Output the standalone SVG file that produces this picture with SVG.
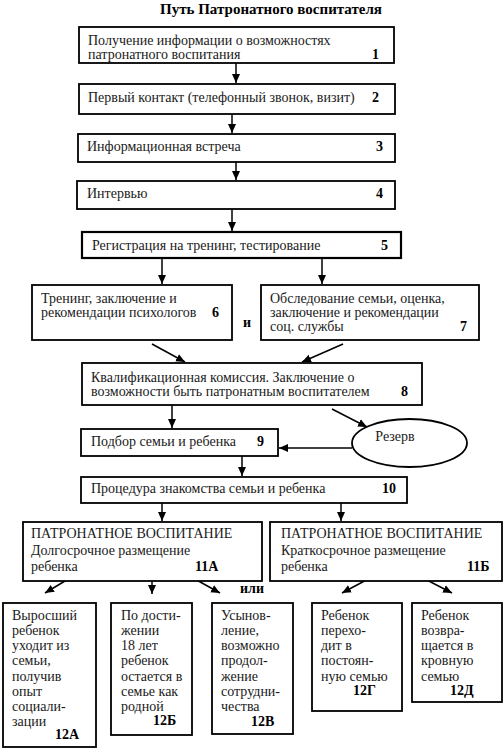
<svg xmlns="http://www.w3.org/2000/svg" width="504" height="751" viewBox="0 0 504 751">
<defs>
<marker id="ah" markerWidth="10" markerHeight="10" refX="9" refY="5" orient="auto" markerUnits="userSpaceOnUse">
<path d="M0,1 L9,5 L0,9 Z" fill="#000"/>
</marker>
<style>
.box{fill:#fff;stroke:#000;stroke-width:1.8}
.t{font-family:"Liberation Serif","Times New Roman",serif;font-size:14px;fill:#1a1a1a}
.n{font-family:"Liberation Serif","Times New Roman",serif;font-size:14px;font-weight:bold;fill:#000}
.c{stroke:#000;stroke-width:1.5;fill:none;marker-end:url(#ah)}
</style>
</defs>
<rect width="504" height="751" fill="#fff"/>
<text x="271" y="14" text-anchor="middle" class="n" style="font-size:15px">Путь Патронатного воспитателя</text>

<g id="connectors">
<line class="c" x1="236" y1="63" x2="236" y2="83"/>
<line class="c" x1="232" y1="114" x2="232" y2="133"/>
<line class="c" x1="236" y1="162" x2="236" y2="180"/>
<line class="c" x1="232" y1="209" x2="232" y2="231"/>
<line class="c" x1="162" y1="258" x2="162" y2="284"/>
<line class="c" x1="322" y1="258" x2="322" y2="284"/>
<line class="c" x1="152" y1="344" x2="185" y2="362"/>
<line class="c" x1="343" y1="344" x2="302" y2="362"/>
<line class="c" x1="172" y1="405" x2="172" y2="428"/>
<line class="c" x1="332" y1="409" x2="367" y2="427"/>
<line class="c" x1="352" y1="448" x2="279" y2="448"/>
<line class="c" x1="242" y1="456" x2="242" y2="476"/>
<line class="c" x1="162" y1="503" x2="162" y2="521"/>
<line class="c" x1="341" y1="503" x2="341" y2="521"/>
<line class="c" x1="70" y1="578" x2="45" y2="593"/>
<line class="c" x1="152" y1="581" x2="152" y2="594"/>
<line class="c" x1="193" y1="578" x2="220" y2="593"/>
<line class="c" x1="370" y1="578" x2="342" y2="593"/>
<line class="c" x1="423" y1="578" x2="452" y2="593"/>
</g>

<g id="n1"><rect class="box" x="79" y="27" width="315" height="36"/>
<text class="t" x="88" y="45">Получение информации о возможностях</text>
<text class="t" x="88" y="59">патронатного воспитания</text>
<text class="n" x="372" y="59">1</text></g>

<g id="n2"><rect class="box" x="79" y="84" width="316" height="30"/>
<text class="t" x="88" y="102">Первый контакт (телефонный звонок, визит)</text>
<text class="n" x="372" y="102">2</text></g>

<g id="n3"><rect class="box" x="78" y="134" width="317" height="28"/>
<text class="t" x="87" y="151">Информационная встреча</text>
<text class="n" x="376" y="151">3</text></g>

<g id="n4"><rect class="box" x="77" y="181" width="318" height="28"/>
<text class="t" x="87" y="198">Интервью</text>
<text class="n" x="376" y="198">4</text></g>

<g id="n5"><rect class="box" x="82" y="232" width="319" height="26" style="stroke-width:2.2"/>
<text class="t" x="92" y="250">Регистрация на тренинг, тестирование</text>
<text class="n" x="381" y="250">5</text></g>

<g id="n6"><rect class="box" x="32" y="285" width="200" height="55"/>
<text class="t" x="41" y="303">Тренинг, заключение и</text>
<text class="t" x="41" y="317">рекомендации психологов</text>
<text class="n" x="212" y="317">6</text></g>

<text class="n" x="243" y="327">и</text>

<g id="n7"><rect class="box" x="261" y="285" width="218" height="55"/>
<text class="t" x="270" y="303">Обследование семьи, оценка,</text>
<text class="t" x="270" y="317">заключение и рекомендации</text>
<text class="t" x="270" y="331">соц. службы</text>
<text class="n" x="460" y="331">7</text></g>

<g id="n8"><rect class="box" x="82" y="363" width="340" height="42"/>
<text class="t" x="91" y="382">Квалификационная комиссия. Заключение о</text>
<text class="t" x="91" y="396">возможности быть патронатным воспитателем</text>
<text class="n" x="401" y="396">8</text></g>

<g id="n9"><rect class="box" x="81" y="429" width="197" height="27"/>
<text class="t" x="91" y="446">Подбор семьи и ребенка</text>
<text class="n" x="257" y="446">9</text></g>

<g id="reserve"><ellipse cx="409.500" cy="443" rx="57.500" ry="24" fill="#fff" stroke="#000" stroke-width="1.8"/>
<text class="t" x="395" y="441" text-anchor="middle">Резерв</text></g>

<g id="n10"><rect class="box" x="81" y="477" width="326" height="26"/>
<text class="t" x="91" y="493">Процедура знакомства семьи и ребенка</text>
<text class="n" x="382" y="493">10</text></g>

<g id="n11a"><rect class="box" x="23" y="522" width="239" height="59"/>
<text class="t" x="31" y="538">ПАТРОНАТНОЕ ВОСПИТАНИЕ</text>
<text class="t" x="31" y="555">Долгосрочное размещение</text>
<text class="t" x="31" y="571">ребенка</text>
<text class="n" x="195" y="571">11А</text></g>

<g id="n11b"><rect class="box" x="270" y="522" width="232" height="59"/>
<text class="t" x="281" y="538">ПАТРОНАТНОЕ ВОСПИТАНИЕ</text>
<text class="t" x="281" y="555">Краткосрочное размещение</text>
<text class="t" x="281" y="571">ребенка</text>
<text class="n" x="467" y="571">11Б</text></g>

<text class="n" x="240" y="593">или</text>

<g id="n12a"><rect class="box" x="3" y="603" width="93" height="144"/>
<text class="t" x="12" y="620">Выросший</text>
<text class="t" x="12" y="635">ребенок</text>
<text class="t" x="12" y="650">уходит из</text>
<text class="t" x="12" y="665">семьи,</text>
<text class="t" x="12" y="681">получив</text>
<text class="t" x="12" y="696">опыт</text>
<text class="t" x="12" y="711">социали-</text>
<text class="t" x="12" y="726">зации</text>
<text class="n" x="55" y="739">12А</text></g>

<g id="n12b"><rect class="box" x="111" y="603" width="81" height="132"/>
<text class="t" x="121" y="620">По дости-</text>
<text class="t" x="121" y="635">жении</text>
<text class="t" x="121" y="650">18 лет</text>
<text class="t" x="121" y="665">ребенок</text>
<text class="t" x="121" y="681">остается в</text>
<text class="t" x="121" y="696">семье как</text>
<text class="t" x="121" y="711">родной</text>
<text class="n" x="153" y="725">12Б</text></g>

<g id="n12v"><rect class="box" x="212" y="603" width="81" height="131"/>
<text class="t" x="221" y="620">Усынов-</text>
<text class="t" x="221" y="635">ление,</text>
<text class="t" x="221" y="650">возможно</text>
<text class="t" x="221" y="665">продол-</text>
<text class="t" x="221" y="681">жение</text>
<text class="t" x="221" y="696">сотрудни-</text>
<text class="t" x="221" y="711">чества</text>
<text class="n" x="251" y="726">12В</text></g>

<g id="n12g"><rect class="box" x="312" y="603" width="90" height="108"/>
<text class="t" x="321" y="620">Ребенок</text>
<text class="t" x="321" y="635">перехо-</text>
<text class="t" x="321" y="650">дит в</text>
<text class="t" x="321" y="665">постоян-</text>
<text class="t" x="321" y="681">ную семью</text>
<text class="n" x="353" y="695">12Г</text></g>

<g id="n12d"><rect class="box" x="412" y="603" width="90" height="99"/>
<text class="t" x="421" y="620">Ребенок</text>
<text class="t" x="421" y="635">возвра-</text>
<text class="t" x="421" y="650">щается в</text>
<text class="t" x="421" y="665">кровную</text>
<text class="t" x="421" y="681">семью</text>
<text class="n" x="450" y="695">12Д</text></g>
</svg>
